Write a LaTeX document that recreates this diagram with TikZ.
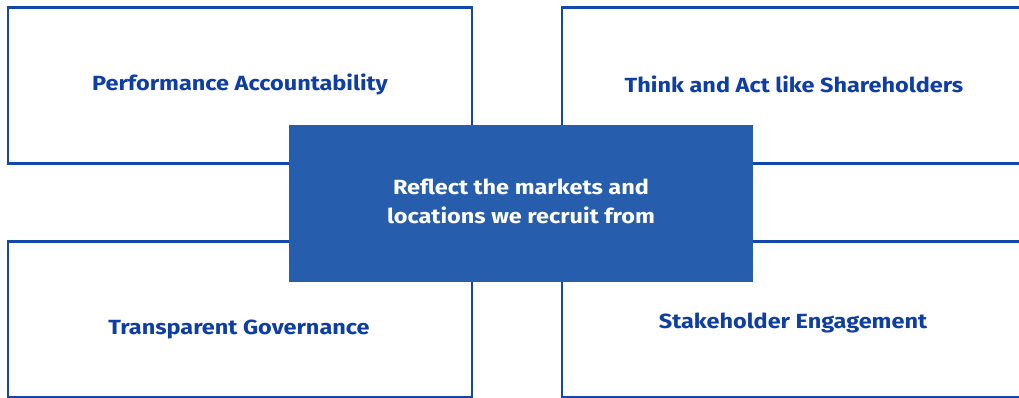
\documentclass[tikz,border=0pt]{standalone}
\usepackage{fontspec}
\setmainfont{Fira Sans}
\newfontfamily\widefont[FakeStretch=1.145]{Fira Sans}
\definecolor{lineblue}{RGB}{18,72,172}
\definecolor{fillblue}{RGB}{38,93,172}
\definecolor{textblue}{RGB}{14,62,164}
\begin{document}
\begin{tikzpicture}[x=1pt,y=-1pt,
  outerbox/.style={draw=lineblue,line width=2.6pt,fill=white},
  lbl/.style={font=\widefont\fontsize{20.5}{24}\selectfont\bfseries,text=textblue,align=center},
  centerbox/.style={fill=fillblue,draw=none},
  clbl/.style={font=\widefont\fontsize{20.5}{28.5}\selectfont\bfseries,text=white,align=center}]
\useasboundingbox (0,0) rectangle (1019,398);
\begin{scope}
\clip (0,0) rectangle (1019,398);
\draw[outerbox] (8,7.5) rectangle (472,163.5);
\draw[outerbox] (562,7.5) rectangle (1026,163.5);
\draw[outerbox] (8,241.5) rectangle (472,397.5);
\draw[outerbox] (562,241.5) rectangle (1026,397.5);
\end{scope}
\node[lbl] (pa) at (240,84) {Performance Accountability};
\node[lbl] (ta) at (794,84) {Think and Act like Shareholders};
\node[lbl] (tg) at (239,329) {Transparent Governance};
\node[lbl] (se) at (793,323) {Stakeholder Engagement};
\fill[centerbox] (289,125) rectangle (753,282);
\node[clbl] (c) at (521,201.5) {Reflect the markets and\\locations we recruit from};
\end{tikzpicture}
\end{document}
